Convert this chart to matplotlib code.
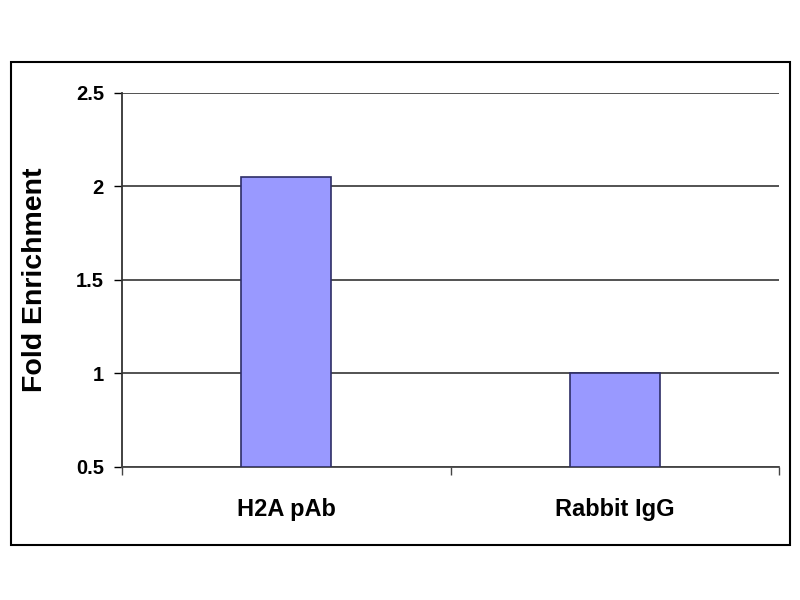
import matplotlib
matplotlib.use("Agg")
import matplotlib.pyplot as plt
from matplotlib.patches import Rectangle

# Data
categories = ["H2A pAb", "Rabbit IgG"]
fold_enrichment = [2.05, 1.0]
y_ticks = [0.5, 1, 1.5, 2, 2.5]
y_labels = ["0.5", "1", "1.5", "2", "2.5"]

plt.rcParams["font.family"] = ["Liberation Sans", "DejaVu Sans"]
plt.rcParams["font.weight"] = "bold"

fig = plt.figure(figsize=(8, 6), dpi=100)
ax = fig.add_axes([0.1525, 0.2217, 0.8213, 0.6233])

# outer chart frame
fig.patches.append(Rectangle((0.014, 0.0917), 0.974, 0.805, transform=fig.transFigure,
                             fill=False, edgecolor="black", linewidth=1.5))

base = 0.5
x = range(len(categories))
ax.bar(x, [v - base for v in fold_enrichment], bottom=base, width=0.275,
       color="#9999ff", edgecolor="#2e2e66", linewidth=1.2, zorder=3)

ax.set_xlim(-0.5, 1.5)
ax.set_ylim(0.5, 2.5)
ax.set_yticks(y_ticks)
ax.set_yticklabels(y_labels, fontsize=14.5, fontweight="bold")
ax.yaxis.grid(True, color="#444444", linewidth=1.3, zorder=0)

ax.set_xticks([-0.5, 0.5, 1.5])
ax.set_xticklabels([])
ax.set_xticks([0, 1], minor=True)
ax.set_xticklabels(categories, minor=True, fontsize=17, fontweight="bold")
ax.tick_params(axis="x", which="minor", length=0, pad=22)
ax.tick_params(axis="x", which="major", length=6, width=1, color="#444444")
ax.tick_params(axis="y", length=6, width=1, pad=7)

for s in ["top", "right"]:
    ax.spines[s].set_visible(False)
ax.spines["left"].set_color("#333333")
ax.spines["bottom"].set_color("#444444")
ax.spines["left"].set_linewidth(1.3)
ax.spines["bottom"].set_linewidth(1.3)

ax.set_ylabel("Fold Enrichment", fontsize=20.5, fontweight="bold")
ax.yaxis.set_label_coords(-0.112, 0.5)

fig.savefig("out.png", dpi=100)
